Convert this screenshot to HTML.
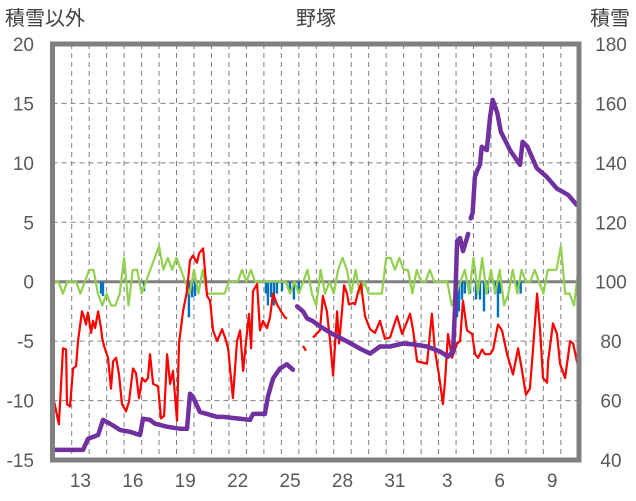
<!DOCTYPE html>
<html><head><meta charset="utf-8"><style>
html,body{margin:0;padding:0;background:#fff;}
svg{display:block;font-family:"Liberation Sans","Noto Sans CJK JP",sans-serif;}
</style></head><body>
<svg id="chart" width="636" height="501" viewBox="0 0 636 501" xmlns="http://www.w3.org/2000/svg">
<text x="316" y="25" text-anchor="middle" font-size="20" fill="#404040">野塚</text>
<text x="5" y="25" font-size="20" fill="#404040">積雪以外</text>
<text x="590" y="25" font-size="20" fill="#404040">積雪</text>
<g id="grid"></g>
<g id="marks"></g>
<g id="axes"></g>
</svg>
<script>
const dayLabels=["13","16","19","22","25","28","31","3","6","9"];
const dayLabelIdx=[1,4,7,10,13,16,19,22,25,28];
const leftTicks=[20,15,10,5,0,-5,-10,-15];
const rightTicks=[180,160,140,120,100,80,60,40];
const tempT=[0,0.27,0.5,0.68,0.73,0.9,1.08,1.25,1.36,1.59,1.71,1.82,1.93,2.11,2.22,2.34,2.51,2.68,2.74,2.85,3.08,3.25,3.37,3.54,3.71,3.88,4.11,4.28,4.51,4.68,4.85,5.03,5.2,5.37,5.48,5.66,5.94,6.11,6.29,6.46,6.63,6.8,7.03,7.14,7.37,7.6,7.77,7.94,8.17,8.29,8.52,8.75,8.92,9.09,9.32,9.61,9.78,9.95,10.23,10.46,10.64,10.81,10.98,11.15,11.27,11.38,11.61,11.78,11.95,12.18,12.35,12.52,12.75,12.98,13.21,13.33,13.8,14.24,14.41,14.6,14.81,15.21,15.38,15.61,15.79,15.96,16.19,16.3,16.47,16.59,16.76,16.87,17.1,17.22,17.39,17.56,17.79,18.08,18.36,18.65,18.93,19.22,19.62,19.91,20.37,20.54,20.77,21.05,21.34,21.45,21.62,21.79,22.02,22.25,22.37,22.54,22.77,23.06,23.23,23.4,23.63,23.92,24.09,24.26,24.49,24.66,24.95,25.12,25.4,25.63,25.92,26.26,26.55,26.78,27.0,27.23,27.41,27.64,27.81,27.98,28.21,28.27,28.55,28.78,28.95,29.24,29.53,29.7,29.98];
const tempV=[-10.1,-12.0,-5.6,-5.7,-10.3,-10.5,-7.3,-7.1,-5.0,-2.5,-3.0,-3.6,-2.6,-4.3,-3.3,-3.9,-2.5,-3.9,-4.7,-5.4,-6.4,-9.0,-6.7,-6.4,-7.8,-10.3,-10.9,-10.1,-7.3,-7.7,-9.8,-8.1,-8.4,-8.1,-6.1,-8.6,-8.8,-11.5,-11.3,-6.1,-8.6,-7.5,-11.7,-5.2,-2.5,-0.8,1.8,2.2,1.6,2.4,2.8,-1.2,-1.6,-4.1,-5.0,-4.0,-4.7,-5.6,-9.8,-5.0,-4.1,-7.5,-5.0,-2.7,-5.6,-0.8,-0.2,-4.1,-3.3,-3.9,-3.0,-1.0,-1.9,-2.5,-3.0,-3.1,null,-5.4,-5.8,null,-4.7,-4.1,-1.2,-2.5,-5.0,-7.9,-2.5,-5.2,-2.5,-0.3,-1.0,-1.9,-1.8,-1.9,-0.9,-0.2,-2.9,-4.0,-4.3,-3.3,-4.8,-4.7,-2.9,-4.4,-2.7,-4.1,-6.7,-6.8,-6.9,-5.2,-2.7,-5.8,-7.8,-10.3,-8.4,-4.4,-6.4,-5.2,-5.0,-1.6,-4.1,-4.4,-6.1,-6.4,-5.7,-6.1,-6.1,-5.7,-3.6,-4.1,-6.1,-7.8,-5.6,-7.5,-9.5,-9.0,-5.6,-1.0,-4.1,-8.1,-8.5,-6.7,-3.5,-4.4,-6.9,-8.1,-5.0,-5.2,-7.1];
const snowT=[0,1.65,1.93,2.51,2.79,3.02,3.31,3.77,4.34,4.91,5.08,5.48,5.77,6.46,7.2,7.6,7.77,7.94,8.34,8.74,9.32,9.66,11.21,11.38,12.06,12.23,12.52,12.92,13.32,13.66,13.8,13.9,14.24,14.47,14.81,15.21,15.96,16.76,17.5,18.08,18.65,19.22,19.96,20.54,21.34,22.08,22.54,22.83,22.94,23.06,23.23,23.4,23.63,23.69,23.76,23.84,23.95,24.08,24.22,24.37,24.47,24.76,24.95,25.1,25.36,25.56,25.8,26.09,26.66,26.81,27.08,27.62,28.19,28.76,29.42,29.91];
const snowV=[43.4,43.4,47.1,48.4,53.5,52.8,51.8,50.1,49.5,48.4,53.9,53.5,52.2,51.2,50.5,50.5,62.3,61.3,56.2,55.5,54.5,54.5,53.5,55.5,55.5,61.3,67.4,70.8,72.2,70.4,null,91.7,90.0,87.7,86.7,85.0,82.3,79.9,77.5,75.8,78.2,78.2,79.2,78.9,78.2,76.5,74.8,76.5,91.1,113.7,114.7,110.3,114.7,116.1,null,121.3,123.1,135.3,137.6,139.3,145.4,144.3,155.5,161.2,156.8,150.5,147.7,144.3,139.3,147.1,145.5,138.2,135.3,131.4,129.2,125.8];
const greenV=[0,0,-1,0,0,0,-1,0,1,1,-1,-2,-1,-2,-2,-1,2,-2,1,1,-1,0,1,2,3,1,2,1,2,1,0,-1,1,-1,1,-1,-1,-1,-1,-1,0,0,0,1,0,1,0,0,0,0,0,0,0,0,-1,0,-1,0,1,-1,-2,1,-1,0,-1,1,2,1,-1,1,-1,0,-1,-1,-1,-1,2,2,1,2,1,1,-1,1,0,0,1,0,0,0,0,-2,-1,0,1,-1,2,-1,2,-1,1,-1,1,-2,-1,1,-1,1,0,0,1,0,-1,1,1,1,3,-1,-1,-2,1];
const precT=[2.68,2.79,5.14,7.6,7.71,7.89,8.06,12.12,12.23,12.41,12.58,12.75,13.04,13.49,13.72,14.0,22.94,23.06,23.17,23.34,23.5,23.8,24.14,24.37,24.6,24.83,25.23,25.4,25.52,26.5,26.7];
const precV=[-1,-1.2,-0.8,-1,-3,-1.3,-1.2,-1,-2,-1.3,-2,-1,-0.8,-1,-1.5,-1,-2,-3,-2.5,-1.5,-1,-1,-1.5,-1.5,-2.5,-1,-1,-3,-1,-1,-1];

const NS="http://www.w3.org/2000/svg";
const X0=52.5,X1=579,Y0=44,Y1=460;
function xs(t){return 54.23+t*17.47;}
function yl(v){return Y1-(v+15)*(Y1-Y0)/35;}
function yr(v){return Y1-(v-40)*(Y1-Y0)/140;}
function mk(tag,attrs,parent){const e=document.createElementNS(NS,tag);for(const k in attrs)e.setAttribute(k,attrs[k]);parent.appendChild(e);return e;}
const grid=document.getElementById('grid'),marks=document.getElementById('marks'),axes=document.getElementById('axes');
for(let d=1;d<=30;d++){const x=xs(d);const l=mk('line',{x1:x,x2:x,y1:Y0,y2:Y1,stroke:'#808080','stroke-width':1,'stroke-dasharray':'5,4'},grid);

}
leftTicks.forEach(v=>{if(v===20||v===-15||v===0)return;const y=yl(v);const l=mk('line',{x1:X0,x2:X1,y1:y,y2:y,stroke:'#808080','stroke-width':1,'stroke-dasharray':'5,4'},grid);

});
const zl=mk('line',{x1:X0,x2:X1,y1:yl(0),y2:yl(0),stroke:'#808080','stroke-width':3},grid);


precT.forEach((t,i)=>{const y0=yl(0),y1=yl(precV[i]);const r=mk('rect',{x:xs(t)-1.2,y:y0,width:2.4,height:y1-y0,fill:'#0070c0'},marks);

});
function path(ts,vs,yf){let d='',pen=false;ts.forEach((t,i)=>{const v=vs[i];if(v===null){pen=false;return;}d+=(pen?'L':'M')+xs(t).toFixed(1)+','+yf(v).toFixed(1);pen=true;});return d;}
const gT=greenV.map((v,i)=>i*0.25);
const g=mk('path',{d:path(gT,greenV,yl),fill:'none',stroke:'#92d050','stroke-width':2.2,'stroke-linejoin':'round'},marks);


const r=mk('path',{d:path(tempT,tempV,yl),fill:'none',stroke:'#ff0000','stroke-width':2.2,'stroke-linejoin':'round'},marks);


const p=mk('path',{d:path(snowT,snowV,yr),fill:'none',stroke:'#7030a0','stroke-width':4.5,'stroke-linejoin':'round','stroke-linecap':'round'},marks);


const f=mk('rect',{x:X0,y:Y0,width:X1-X0,height:Y1-Y0,fill:'none',stroke:'#808080','stroke-width':5},axes);


leftTicks.forEach(v=>{const t=mk('text',{x:34,y:yl(v)+7,'text-anchor':'end','font-size':19,fill:'#595959'},axes);t.textContent=v;

});
rightTicks.forEach(v=>{const t=mk('text',{x:611,y:yr(v)+7,'text-anchor':'middle','font-size':19,fill:'#595959'},axes);t.textContent=v;

});
dayLabels.forEach((s,i)=>{const t=mk('text',{x:xs(dayLabelIdx[i]+0.5),y:487,'text-anchor':'middle','font-size':19,fill:'#595959'},axes);t.textContent=s;

});
</script>
</body></html>
